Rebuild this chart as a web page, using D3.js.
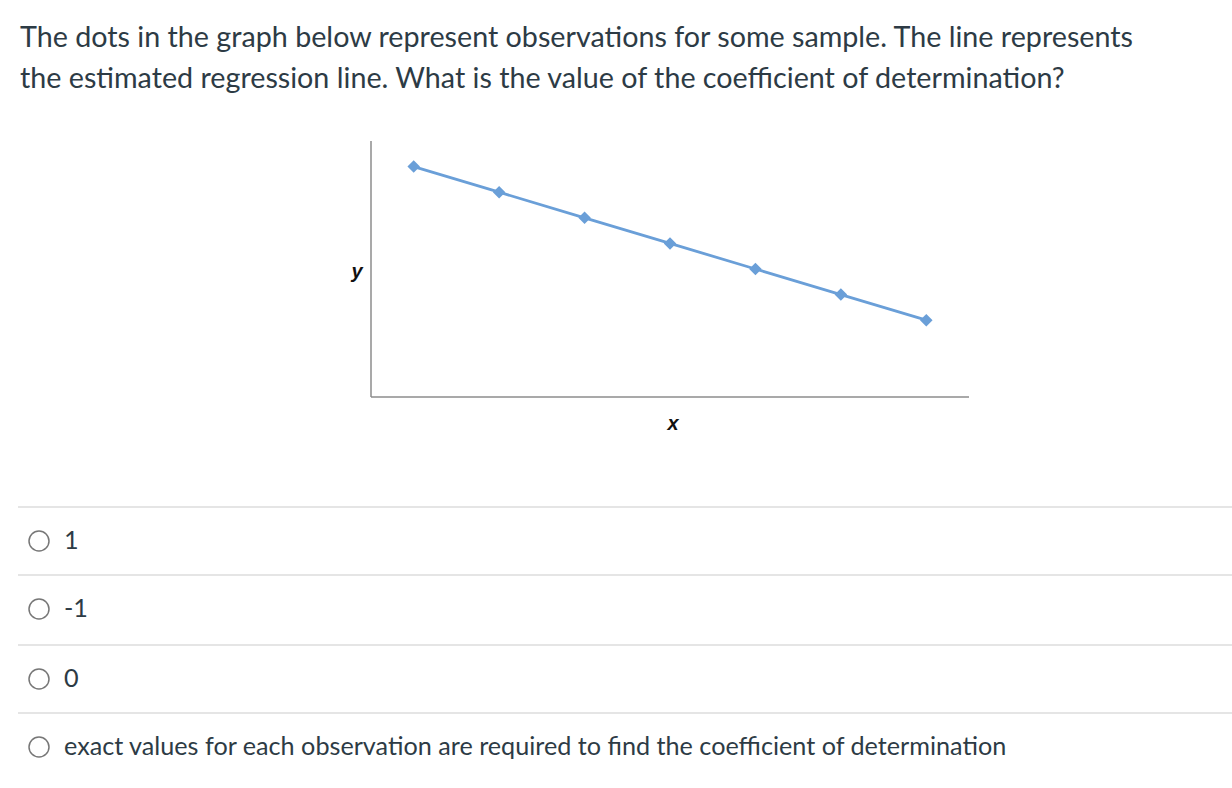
<!DOCTYPE html>
<html><head><meta charset="utf-8">
<script src="https://cdn.jsdelivr.net/npm/d3@7"></script>
<style>html,body{margin:0;padding:0;background:#fff;}svg{display:block;}</style>
</head><body>
<svg id="chart" width="1232" height="788"></svg>
<script>
const questionLines = [
  "The dots in the graph below represent observations for some sample. The line represents",
  "the estimated regression line. What is the value of the coefficient of determination?"
];
const xValues = [1, 2, 3, 4, 5, 6, 7];
const yValues = [9, 8, 7, 6, 5, 4, 3];
const xDomain = [0.5, 7.5];
const yDomain = [0, 10];
const axisLabels = ["x", "y"];
const options = ["1", "-1", "0", "exact values for each observation are required to find the coefficient of determination"];

const svg = d3.select("#chart");
const textColor = "#2d3b45";
const font = "Lato, 'Open Sans', sans-serif";

svg.selectAll("text.q").data(questionLines).join("text")
  .attr("class","q")
  .attr("x", 20).attr("y", (d,i) => 47 + i*41)
  .attr("font-family", font).attr("font-size", 28.7).attr("fill", textColor)
  .text(d => d);

const x = d3.scaleLinear().domain(xDomain).range([371, 969]);
const y = d3.scaleLinear().domain(yDomain).range([397, 141]);

const axisColor = "#8c8c8c";
svg.append("line").attr("x1", x(xDomain[0])).attr("x2", x(xDomain[0]))
  .attr("y1", y(yDomain[1])).attr("y2", y(yDomain[0]))
  .attr("stroke", axisColor).attr("stroke-width", 1.5);
svg.append("line").attr("x1", x(xDomain[0])).attr("x2", x(xDomain[1]))
  .attr("y1", y(yDomain[0])).attr("y2", y(yDomain[0]))
  .attr("stroke", axisColor).attr("stroke-width", 1.5);

const pts = xValues.map((v,i) => [v, yValues[i]]);
const blue = "#6a9fd8";
svg.append("path").datum(pts)
  .attr("d", d3.line().x(d => x(d[0])).y(d => y(d[1])))
  .attr("fill","none").attr("stroke", blue).attr("stroke-width", 2.8);
svg.selectAll("path.m").data(pts).join("path")
  .attr("class","m")
  .attr("d", d3.symbol(d3.symbolDiamond2, 100))
  .attr("transform", d => `translate(${x(d[0])},${y(d[1])})`)
  .attr("fill", blue);

svg.append("text").attr("x", 673).attr("y", 430)
  .attr("text-anchor","middle").attr("font-family","Arial, 'Liberation Sans', sans-serif")
  .attr("font-size", 20).attr("font-weight","bold").attr("font-style","italic").attr("fill","#111")
  .text(axisLabels[0]);
svg.append("text").attr("x", 357).attr("y", 278)
  .attr("text-anchor","middle").attr("font-family","Arial, 'Liberation Sans', sans-serif")
  .attr("font-size", 20).attr("font-weight","bold").attr("font-style","italic").attr("fill","#111")
  .text(axisLabels[1]);

const rowTop = [507, 575, 645, 713];
options.forEach((o,i) => {
  const top = rowTop[i];
  svg.append("line").attr("x1", 18).attr("x2", 1232).attr("y1", top).attr("y2", top)
    .attr("stroke", "#dcdcdc").attr("stroke-width", 1.5);
  const cy = top + 34;
  svg.append("circle").attr("cx", 39).attr("cy", cy).attr("r", 10)
    .attr("fill","#fff").attr("stroke","#777").attr("stroke-width", 1.5);
  svg.append("text").attr("x", 64).attr("y", cy + 8)
    .attr("font-family", font).attr("font-size", 25.2).attr("fill", textColor).text(o);
});
</script>
</body></html>
